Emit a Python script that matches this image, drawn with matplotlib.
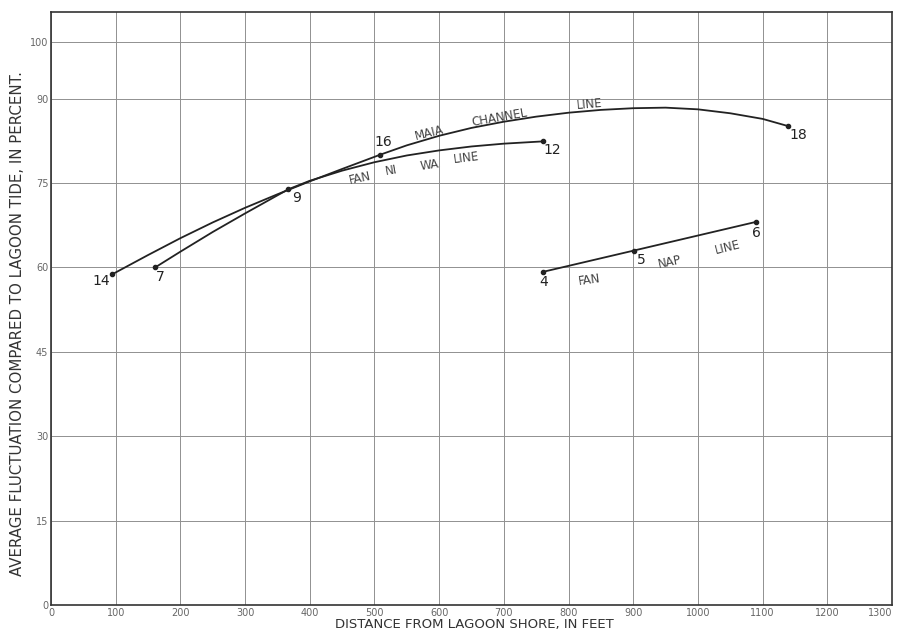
import matplotlib
matplotlib.use("Agg")
import matplotlib.pyplot as plt

# station points (feet from lagoon shore, percent of lagoon tide)
MAIA_ST = [14, 16, 18]
MAIA_X = [95, 508, 1140]
MAIA_Y = [58.8, 80.0, 85.1]

NIWA_ST = [7, 9, 12]
NIWA_X = [161, 367, 760]
NIWA_Y = [60.0, 73.9, 82.4]

NAP_ST = [4, 5, 6]
NAP_X = [760, 901, 1090]
NAP_Y = [59.2, 63.0, 68.1]

# hand drawn curves
MAIA_CX = [95, 150, 200, 250, 300, 350, 400, 450, 508, 550, 600, 650, 700, 750,
           800, 850, 900, 950, 1000, 1050, 1100, 1140]
MAIA_CY = [58.8, 62.2, 65.2, 68.0, 70.6, 73.0, 75.3, 77.5, 80.0, 81.7, 83.4, 84.8, 85.9, 86.8,
           87.5, 88.0, 88.3, 88.4, 88.1, 87.4, 86.4, 85.1]

NIWA_CX = [161, 200, 250, 300, 367, 400, 450, 500, 550, 600, 650, 700, 760]
NIWA_CY = [60.0, 62.8, 66.3, 69.6, 73.9, 75.4, 77.2, 78.7, 79.9, 80.8, 81.5, 82.0, 82.4]

XTICKS = list(range(0, 1301, 100))
YTICKS = [0, 15, 30, 45, 60, 75, 90, 100]

ink = '#222222'
grey = '#909090'

fig = plt.figure(figsize=(8.99, 6.32), dpi=100)
ax = fig.add_axes([51/899, 1-605/632, (892-51)/899, (605-12)/632])

ax.set_xlim(0, 1300)
ax.set_ylim(0, 105.4)
ax.set_xticks(XTICKS)
ax.set_yticks(YTICKS)
ax.set_xticklabels([str(t) for t in XTICKS], fontsize=7, color='#666666')
ax.set_yticklabels([str(t) for t in YTICKS], fontsize=7, color='#666666')
ax.get_xticklabels()[-1].set_ha('right')
ax.tick_params(length=0, pad=2)
ax.grid(True, color=grey, lw=0.7)
for s in ax.spines.values():
    s.set_color('#333333')
    s.set_linewidth(1.2)

# curves
ax.plot(MAIA_CX, MAIA_CY, color=ink, lw=1.3, solid_joinstyle='round')
ax.plot(NIWA_CX, NIWA_CY, color=ink, lw=1.3, solid_joinstyle='round')
ax.plot(NAP_X, NAP_Y, color=ink, lw=1.3)
ax.scatter(MAIA_X + NIWA_X + NAP_X, MAIA_Y + NIWA_Y + NAP_Y, s=9, color=ink, zorder=3)

# station numbers
offs = {14: (-8, -5), 16: (3, 9), 18: (7, -6), 7: (4, -7), 9: (6, -6), 12: (7, -6),
        4: (1, -7), 5: (5, -7), 6: (0, -8)}
for st, x, y in zip(MAIA_ST + NIWA_ST + NAP_ST, MAIA_X + NIWA_X + NAP_X, MAIA_Y + NIWA_Y + NAP_Y):
    dx, dy = offs[st]
    ax.annotate(str(st), (x, y), xytext=(dx, dy), textcoords='offset points',
                ha='center', va='center', fontsize=10, color=ink)

# line names
lab = dict(fontsize=8.5, color='#444444', ha='center', va='center')
ax.text(585, 83.9, 'MAIA', rotation=14, **lab)
ax.text(693, 86.6, 'CHANNEL', rotation=10, **lab)
ax.text(833, 89.0, 'LINE', rotation=5, **lab)
ax.text(477, 75.9, 'FAN', rotation=12, **lab)
ax.text(526, 77.3, 'NI', rotation=10, **lab)
ax.text(585, 78.2, 'WA', rotation=8, **lab)
ax.text(642, 79.5, 'LINE', rotation=7, **lab)
ax.text(833, 57.8, 'FAN', rotation=8, **lab)
ax.text(957, 61.0, 'NAP', rotation=12, **lab)
ax.text(1046, 63.6, 'LINE', rotation=14, **lab)

ax.set_xlabel('DISTANCE FROM LAGOON SHORE, IN FEET', fontsize=9.5, color='#333333')
ax.xaxis.label.set_va('center')
ax.xaxis.set_label_coords((474 - 51) / 841, (605 - 624.5) / 593)
ax.set_ylabel('AVERAGE FLUCTUATION COMPARED TO LAGOON TIDE, IN PERCENT.', fontsize=10.8,
              color='#333333')
ax.yaxis.label.set_va('center')
ax.yaxis.set_label_coords((18 - 51) / 841, (605 - 324) / 593)

fig.savefig('out.png', dpi=100)
